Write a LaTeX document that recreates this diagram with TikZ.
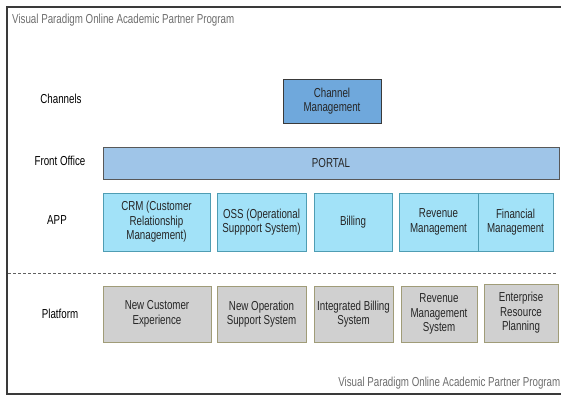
\documentclass[tikz,border=0pt]{standalone}
\usepackage{fontspec}
\setmainfont[FakeStretch=0.75]{Liberation Sans}
\definecolor{chanfill}{HTML}{6FA8DC}
\definecolor{portalfill}{HTML}{9FC5E8}
\definecolor{appfill}{HTML}{A2E2F8}
\definecolor{appline}{HTML}{4F9DB3}
\definecolor{platfill}{HTML}{D0D0D0}
\definecolor{platline}{HTML}{A09C78}
\definecolor{frameline}{HTML}{3A3A3A}
\definecolor{boxtext}{HTML}{262626}
\definecolor{credittext}{HTML}{6E6E6E}
\tikzset{
  blockbox/.style={draw, line width=1pt, inner sep=1pt, align=center,
    text=boxtext, font=\fontsize{13}{14.5}\selectfont},
  chanbox/.style={blockbox, fill=chanfill, draw=frameline},
  portalbox/.style={blockbox, fill=portalfill, draw=frameline!85},
  appbox/.style={blockbox, fill=appfill, draw=appline},
  platbox/.style={blockbox, fill=platfill, draw=platline},
  lanelabel/.style={font=\fontsize{13}{14.5}\selectfont, text=black},
  credit/.style={font=\fontsize{13}{14.5}\selectfont, text=credittext, inner sep=0pt}
}
\begin{document}
\begin{tikzpicture}[x=1pt, y=-1pt]
\useasboundingbox (0,0) rectangle (561,396);
\fill[white] (0,0) rectangle (561,396);

% outer frame (right side runs off the page)
\draw[frameline, line width=1.2pt] (561,7) -- (7,7) -- (7,394) -- (561,394);

% credit lines
\node[credit, anchor=west] (credtop) at (12,20) {Visual Paradigm Online Academic Partner Program};
\node[credit, anchor=east] (credbot) at (560.5,383) {Visual Paradigm Online Academic Partner Program};

% lane labels
\node[lanelabel] (lchan) at (61,99) {Channels};
\node[lanelabel] (lfront) at (60,161) {Front Office};
\node[lanelabel] (lapp) at (57,220) {APP};
\node[lanelabel] (lplat) at (60,314) {Platform};

% channels
\node[chanbox, minimum width=98pt, minimum height=44pt] (cm) at (332,101) {Channel\\Management};

% front office
\node[portalbox, minimum width=456pt, minimum height=32pt] (portal) at (331,163) {PORTAL};

% applications
\node[appbox, minimum width=107pt, minimum height=58pt] (crm) at (156.5,222) {CRM (Customer\\Relationship\\Management)};
\node[appbox, minimum width=89pt, minimum height=58pt] (oss) at (261.5,222) {OSS (Operational\\Suppport System)};
\node[appbox, minimum width=78pt, minimum height=58pt] (bill) at (353,222) {Billing};
\node[appbox, minimum width=79pt, minimum height=58pt] (rev) at (438.5,222) {Revenue\\Management};
\node[appbox, minimum width=75pt, minimum height=58pt] (fin) at (515.5,222) {Financial\\Management};

% separator
\coordinate (sepl) at (8,273);
\coordinate (sepr) at (557,273);
\draw[frameline!80, line width=0.9pt, dash pattern=on 3pt off 2pt] (sepl) -- (sepr);

% platform
\node[platbox, minimum width=108pt, minimum height=56pt] (nce) at (157,314) {New Customer\\Experience};
\node[platbox, minimum width=89pt, minimum height=56pt] (noss) at (261.5,314) {New Operation\\Support System};
\node[platbox, minimum width=79pt, minimum height=56pt] (ibs) at (353.5,314) {Integrated Billing\\System};
\node[platbox, minimum width=76pt, minimum height=56pt] (rms) at (439,314) {Revenue\\Management\\System};
\node[platbox, minimum width=74pt, minimum height=58pt] (erp) at (521,313) {Enterprise\\Resource\\Planning};
\end{tikzpicture}
\end{document}
